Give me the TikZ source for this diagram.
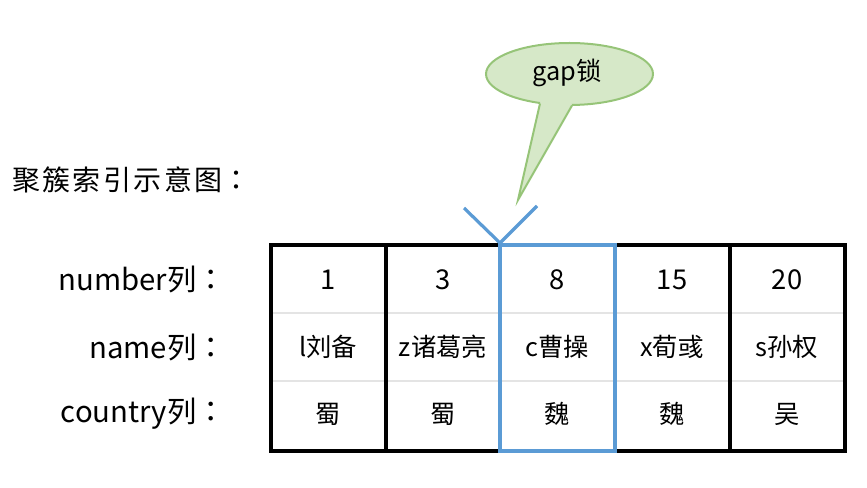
\documentclass[tikz,border=0pt]{standalone}
\usepackage{fontspec}
\setmainfont{Noto Sans CJK SC}
\newfontfamily\tcfont{Noto Sans CJK TC}
\usetikzlibrary{shapes.geometric}
\definecolor{gridblack}{RGB}{0,0,0}
\definecolor{sepgray}{RGB}{228,228,228}
\definecolor{hlblue}{RGB}{91,155,213}
\definecolor{bubblefill}{RGB}{214,232,200}
\definecolor{bubbleline}{RGB}{150,196,120}
\newcommand{\fwcolon}{{\tcfont ：}}
\tikzset{
  cell/.style={inner sep=0pt, anchor=center, font=\fontsize{19}{22}\selectfont},
  numcell/.style={cell, font=\fontsize{20.5}{24}\selectfont},
  rowlabel/.style={inner sep=0pt, anchor=east, font=\fontsize{22}{26}\selectfont},
  border/.style={draw=gridblack, line width=2.5pt},
  sep/.style={draw=sepgray, line width=2pt},
  hl/.style={draw=hlblue, line width=2.4pt},
}
\begin{document}
\begin{tikzpicture}[x=0.75pt, y=-0.75pt]
\useasboundingbox (0,0) rectangle (867,488);
% title
\node[anchor=west, inner sep=0pt, font=\fontsize{21}{24}\selectfont\addfontfeature{LetterSpace=8.5}] (title) at (12,180) {聚簇索引示意图\fwcolon};
% row labels
\node[rowlabel] (lnum) at (226,280) {number列\fwcolon};
\node[rowlabel] (lname) at (226,347) {name列\fwcolon};
\node[rowlabel] (lcountry) at (226,414) {country列\fwcolon};
% separators
\draw[sep] (272,313) -- (845,313);
\draw[sep] (272,381) -- (845,381);
% table grid
\draw[border] (271,245) rectangle (845,451);
\foreach \x in {386,500,615,730} \draw[border] (\x,245) -- (\x,451);
% highlighted column
\draw[hl] (500,245) rectangle (615,451);
% cells
\foreach \i/\cx/\a/\b/\c in {1/328/1/l刘备/蜀, 2/443/3/z诸葛亮/蜀, 3/557/8/c曹操/魏, 4/672/15/x荀彧/魏, 5/787/20/s孙权/吴}{
  \node[numcell] (n\i) at (\cx,280) {\a};
  \node[cell] (m\i) at (\cx,347) {\b};
  \node[cell] (c\i) at (\cx,414) {\c};
}
% gap marker
\coordinate (vl) at (464,208);
\coordinate (vr) at (537,206);
\coordinate (vapex) at (500,243);
\draw[hl] (vl) -- (vapex) -- (vr);
% callout
\node[ellipse, draw=bubbleline, fill=bubblefill, line width=1.5pt, minimum width=167*0.75pt, minimum height=62*0.75pt, inner sep=0pt] (bubble) at (569.5,74) {};
\coordinate (tipL) at (540,103.5);
\coordinate (tipR) at (572,105.5);
\coordinate (tip) at (518,200);
\fill[bubblefill] (tipL) -- (tip) -- (tipR) -- (570,96) -- (542,95) -- cycle;
\draw[bubbleline, line width=1.5pt, line join=miter] (tipL) -- (tip) -- (tipR);
\node[inner sep=0pt, font=\fontsize{19}{21}\selectfont] (gaptext) at (567,73) {gap锁};
\end{tikzpicture}
\end{document}
